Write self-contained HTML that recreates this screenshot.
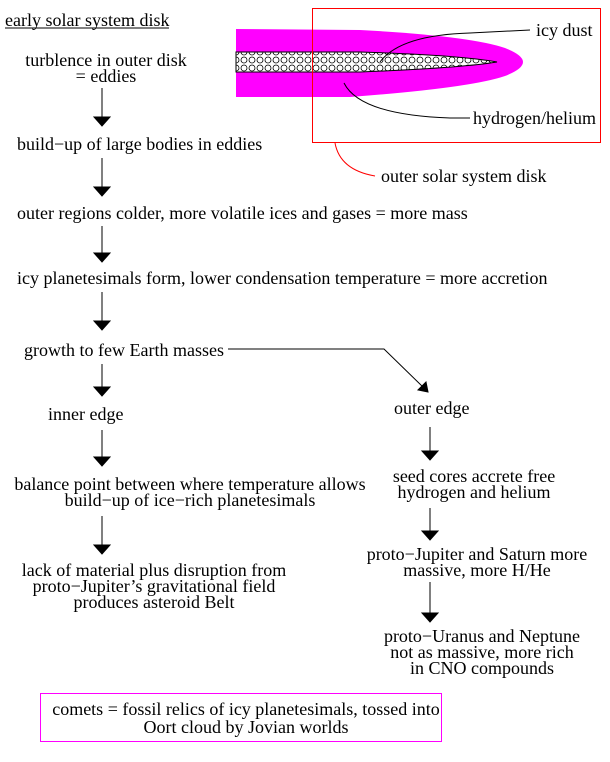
<!DOCTYPE html>
<html><head><style>
body{margin:0;background:#fff;width:610px;height:762px;overflow:hidden;position:relative;font-family:"Liberation Serif",serif;font-size:18px;color:#000}
.t{position:absolute;white-space:nowrap;line-height:16px}
.c{text-align:center}
svg{position:absolute;left:0;top:0}
</style></head><body>
<svg width="610" height="762">
<defs>
<pattern id="p" width="8" height="8" patternUnits="userSpaceOnUse"><rect width="8" height="8" fill="#fff"/><circle cx="4" cy="4" r="3" fill="none" stroke="#000" stroke-width="0.8"/></pattern>
</defs>
<path d="M236 29 L360 30 Q470 36 505 48 Q523 55 523 62 Q523 69 505 76 Q470 88 350 97 L236 97 Z" fill="#f0f"/>
<path d="M236 52 L360 52 Q460 55 497 62 Q460 68 360 72 L236 72 Z" fill="url(#p)" stroke="#000" stroke-width="1"/>
<rect x="312.5" y="8.5" width="288" height="134" fill="none" stroke="#f00"/>
<path d="M380 62 Q400 35 470 33 L530 30" fill="none" stroke="#000"/>
<path d="M344 83 Q360 115 450 118 L470 118" fill="none" stroke="#000"/>
<path d="M335 143 Q340 170 375 176" fill="none" stroke="#f00"/>
<line x1="5" y1="28" x2="169" y2="28" stroke="#000"/>
<g stroke="#000" fill="#000">
<line x1="102" y1="88" x2="102" y2="118"/><path d="M94 117 L110 117 L102 126Z"/>
<line x1="102" y1="158" x2="102" y2="188"/><path d="M94 187 L110 187 L102 196Z"/>
<line x1="102" y1="226" x2="102" y2="254"/><path d="M94 253 L110 253 L102 262Z"/>
<line x1="102" y1="292" x2="102" y2="322"/><path d="M94 321 L110 321 L102 330Z"/>
<line x1="102" y1="364" x2="102" y2="388"/><path d="M94 387 L110 387 L102 396Z"/>
<line x1="102" y1="430" x2="102" y2="458"/><path d="M94 457 L110 457 L102 466Z"/>
<line x1="102" y1="516" x2="102" y2="546"/><path d="M94 545 L110 545 L102 554Z"/>
<line x1="430" y1="427" x2="430" y2="452"/><path d="M422 451 L438 451 L430 460Z"/>
<line x1="430" y1="508" x2="430" y2="532"/><path d="M422 531 L438 531 L430 540Z"/>
<line x1="430" y1="582" x2="430" y2="614"/><path d="M422 613 L438 613 L430 622Z"/>
<polyline points="228,349 384,349 424,388" fill="none"/><path d="M428 392 L418 390 L426 382Z"/>
</g>
<rect x="40.5" y="693.5" width="401" height="48" fill="none" stroke="#f0f"/>
</svg>
<div class="t" style="left:5px;top:12px">early solar system disk</div>
<div class="t c" style="left:6px;top:52px;width:200px">turblence in outer disk<br>= eddies</div>
<div class="t" style="left:17px;top:136px">build−up of large bodies in eddies</div>
<div class="t" style="left:17px;top:205px">outer regions colder, more volatile ices and gases = more mass</div>
<div class="t" style="left:17px;top:270px">icy planetesimals form, lower condensation temperature = more accretion</div>
<div class="t" style="left:24px;top:342px">growth to few Earth masses</div>
<div class="t" style="left:48px;top:406px">inner edge</div>
<div class="t c" style="left:-10px;top:476px;width:400px">balance point between where temperature allows<br>build−up of ice−rich planetesimals</div>
<div class="t c" style="left:4px;top:562px;width:300px">lack of material plus disruption from<br>proto−Jupiter’s gravitational field<br>produces asteroid Belt</div>
<div class="t" style="left:394px;top:400px">outer edge</div>
<div class="t c" style="left:354px;top:468px;width:240px">seed cores accrete free<br>hydrogen and helium</div>
<div class="t c" style="left:337px;top:546px;width:280px">proto−Jupiter and Saturn more<br>massive, more H/He</div>
<div class="t c" style="left:342px;top:628px;width:280px">proto−Uranus and Neptune<br>not as massive, more rich<br>in CNO compounds</div>
<div class="t c" style="left:16px;top:700px;width:460px;line-height:18px">comets = fossil relics of icy planetesimals, tossed into<br>Oort cloud by Jovian worlds</div>
<div class="t" style="left:536px;top:22px">icy dust</div>
<div class="t" style="left:473px;top:110px">hydrogen/helium</div>
<div class="t" style="left:381px;top:168px">outer solar system disk</div>
</body></html>
